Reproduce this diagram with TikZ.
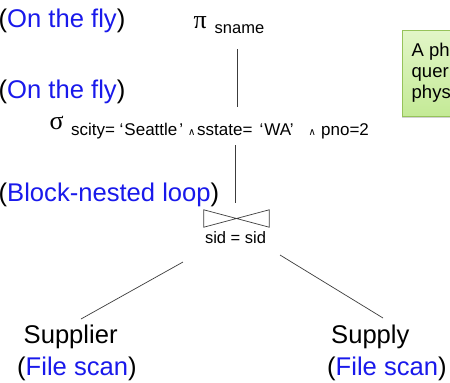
\documentclass[tikz,border=0pt]{standalone}
\usepackage{fontspec}
\setmainfont{Liberation Sans}
\newfontfamily\greekfont{Liberation Serif}
\newfontfamily\symfont{DejaVu Sans}
\usetikzlibrary{shadows}
\definecolor{opblue}{RGB}{25,25,235}
\definecolor{notetop}{RGB}{226,246,200}
\definecolor{notebot}{RGB}{196,234,150}
\definecolor{noteline}{RGB}{150,195,90}
\definecolor{edgegray}{RGB}{60,60,60}
\begin{document}
\begin{tikzpicture}[x=1pt,y=-1pt,
  txt/.style={inner sep=0pt, anchor=base west},
  bigtxt/.style={txt, font=\fontsize{25.6}{30}\selectfont},
  midtxt/.style={txt, font=\fontsize{16.5}{19}\selectfont},
  condtxt/.style={txt, font=\fontsize{17}{19}\selectfont},
  andtxt/.style={txt, font=\symfont\fontsize{10}{10}\selectfont},
  greek/.style={txt, font=\greekfont\fontsize{26}{28}\selectfont},
  notetxt/.style={txt, font=\fontsize{18.5}{20}\selectfont},
  edge/.style={draw=edgegray, line width=0.7pt},
  joinbox/.style={minimum width=65pt, minimum height=17pt, inner sep=0pt},
  notebox/.style={draw=noteline, line width=0.8pt, top color=notetop, bottom color=notebot,
    drop shadow={shadow xshift=-1pt, shadow yshift=-1.5pt, opacity=0.35}}]
\useasboundingbox (0,0) rectangle (450,383);
\clip (0,0) rectangle (450,383);
\fill[white] (0,0) rectangle (450,383);

% note box (cut off by the right edge)
\path[notebox] (402.5,30) rectangle (470,116);
\node[notetxt] (n1) at (411.5,56) {A ph};
\node[notetxt] (n2) at (411.5,77) {quer};
\node[notetxt] (n3) at (411.5,98) {phys};

% annotations
\node[bigtxt] (a1) at (-1.5,27) {(\textcolor{opblue}{On the fly})};
\node[bigtxt] (a2) at (-1.5,98) {(\textcolor{opblue}{On the fly})};
\node[bigtxt] (a3) at (-1.5,201.5) {(\textcolor{opblue}{Block-nested loop})};

% projection
\node[greek] (pi) at (193.5,28) {π};
\node[midtxt] (pisub) at (214.5,33.5) {sname};

% selection
\node[greek] (sigma) at (49.5,129) {σ};
\node[condtxt] (c1) at (71,135) {scity=};
\node[condtxt] (c2) at (119.5,135) {‘\hspace{1pt}Seattle\hspace{2pt}’};
\node[andtxt] (c3) at (188,135) {∧};
\node[condtxt] (c4) at (197,135) {sstate=};
\node[condtxt] (c5) at (259.5,135) {‘\hspace{1pt}WA’};
\node[andtxt] (c6) at (308.5,135) {∧};
\node[condtxt] (c7) at (321,135) {pno=2};

% join
\node[joinbox] (join) at (236.5,218.5) {};
\draw[edge] (join.north west) -- (join.south east) -- (join.north east) -- (join.south west) -- cycle;
\node[midtxt, anchor=base] (cond) at (235.5,243) {sid = sid};

% leaves
\node[bigtxt] (supplier) at (23.5,343) {Supplier};
\node[bigtxt] (scan1) at (17,375) {(\textcolor{opblue}{File scan})};
\node[bigtxt] (supply) at (331,343) {Supply};
\node[bigtxt] (scan2) at (327,375) {(\textcolor{opblue}{File scan})};

% connector end points
\coordinate (p1) at (237,49);
\coordinate (p2) at (237,107);
\coordinate (s1) at (235.5,145);
\coordinate (s2) at (235.5,203);
\coordinate (l1) at (183,262);
\coordinate (l2) at (81,319);
\coordinate (r1) at (280,255);
\coordinate (r2) at (383,318);

\draw[edge] (p1) -- (p2);
\draw[edge] (s1) -- (s2);
\draw[edge] (l1) -- (l2);
\draw[edge] (r1) -- (r2);
\end{tikzpicture}
\end{document}
